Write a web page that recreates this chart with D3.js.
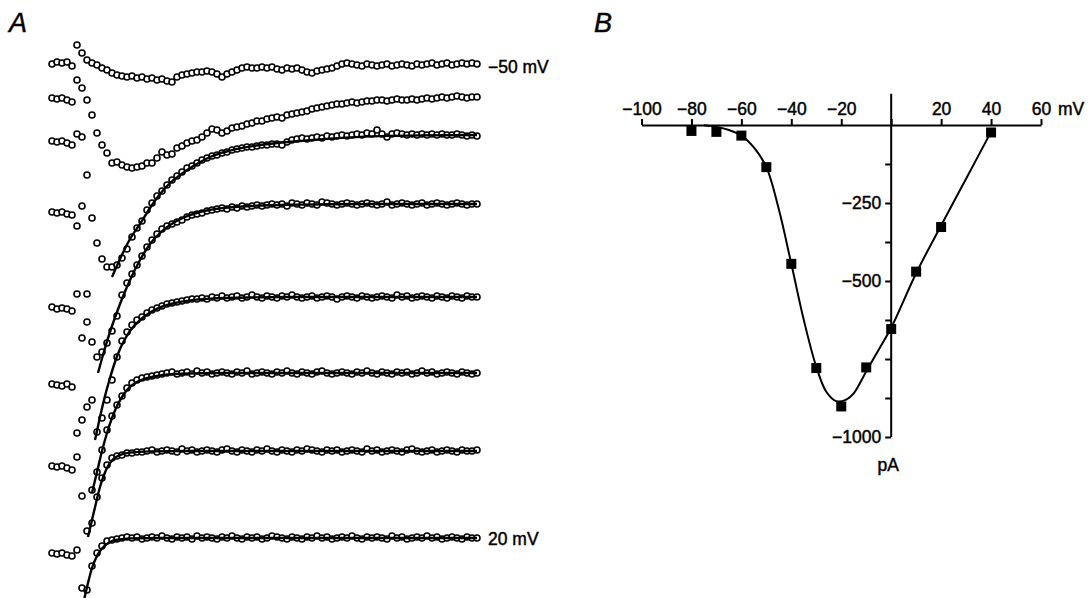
<!DOCTYPE html>
<html>
<head>
<meta charset="utf-8">
<script src="https://cdn.jsdelivr.net/npm/d3@7"></script>
<style>
  body { margin: 0; background: #fff; }
  svg { display: block; font-family: "Liberation Sans", Arial, Helvetica, sans-serif; }
  svg text { stroke: #000; stroke-width: 0.45px; }
</style>
</head>
<body>
<svg id="fig" width="1090" height="598"></svg>
<script>
// ---- panel A: current traces, one sample every 0.5 ms, values in pA ----
const sampleStep = 0.5;
const stepVoltages = [-50, -40, -30, -20, -10, 0, 10, 20];

const currentM50 = [
  10, 20, 15, 20, 0, 105, 65, 30, 15, 5,
  -10, -20, -35, -45, -50, -55, -50, -60, -55, -65,
  -60, -70, -65, -75, -80, -55, -45, -40, -35, -30,
  -30, -25, -30, -40, -55, -40, -30, -20, -10, -5,
  -10, -10, -5, -10, -5, -15, -20, -10, -15, -10,
  -20, -30, -35, -25, -20, -15, -10, 0, 10, 15,
  10, 5, 0, 10, 5, 0, 5, 10, 0, 5,
  10, 5, 0, 10, 5, 10, 15, 5, 10, 15,
  5, 10, 15, 10, 15, 10
];
const currentM40 = [
  0, -5, 0, -10, -20, 90, 50, -10, -85, -175,
  -235, -275, -325, -320, -335, -345, -350, -345, -340, -325,
  -325, -300, -270, -285, -280, -250, -240, -225, -215, -210,
  -195, -175, -155, -160, -175, -165, -150, -145, -140, -130,
  -125, -115, -115, -105, -100, -95, -100, -85, -80, -75,
  -70, -65, -55, -50, -45, -40, -35, -30, -30, -25,
  -20, -25, -20, -15, -15, -10, -10, -15, -10, -5,
  -10, -10, -5, -10, -5, 0, -5, 0, 5, 0,
  5, 10, 5, 0, 5, 5
];
const currentM30 = [
  -30, -35, -30, -40, -50, 5, -10, -200, -415, -540,
  -620, -660, -660, -650, -615, -570, -510, -465, -430, -375,
  -340, -305, -280, -250, -225, -205, -185, -165, -155, -140,
  -125, -115, -105, -100, -90, -85, -75, -70, -65, -60,
  -60, -55, -50, -50, -45, -45, -50, -35, -25, -20,
  -15, -20, -15, -10, -15, -5, -10, -5, 0, -5,
  0, 5, 0, 10, 5, 25, 5, -10, 5, 10,
  5, 0, 5, 0, 5, 0, 5, 0, 5, 0,
  0, 5, 0, -5, 0, -5
];
const currentM20 = [
  -40, -45, -40, -50, -55, -110, -10, -450, -690, -765,
  -740, -695, -635, -560, -455, -395, -350, -305, -260, -215,
  -180, -150, -125, -110, -100, -90, -80, -65, -55, -50,
  -45, -35, -30, -25, -20, -25, -15, -20, -10, -15,
  -10, -5, -10, -5, 0, -5, 0, -10, 5, 0,
  -5, 5, 0, -5, 10, 5, 0, -5, 0, 5,
  0, -5, 0, 5, 0, -5, 0, 10, -5, 0,
  5, 0, -5, 0, 5, -5, 0, 5, 0, -5,
  0, 5, 0, -5, 0, 0
];
const currentM10 = [
  -50, -60, -55, -60, -70, 15, -205, -125, -515, -675,
  -605, -515, -415, -300, -220, -175, -140, -115, -100, -80,
  -65, -55, -45, -35, -30, -25, -20, -15, -10, -10,
  -5, -10, 0, -5, 5, -5, 0, 5, -5, 0,
  10, 0, -5, 5, 0, -5, 5, 0, 10, 0,
  -5, 0, 5, -5, 0, 5, 0, -10, 0, 5,
  0, -5, 5, 0, -5, 0, 5, 0, -5, 10,
  0, 5, -5, 0, 5, 0, -5, 5, 0, -5,
  5, 0, -5, 5, 0, 0
];
const current0 = [
  -55, -60, -65, -55, -70, -300, -235, -170, -585, -495,
  -385, -285, -215, -160, -115, -75, -50, -35, -25, -20,
  -15, -10, -5, 0, 5, -5, 0, 5, -5, 10,
  0, 5, -5, 0, 5, 0, -5, 5, 0, 10,
  -5, 0, 5, 0, -5, 5, 0, 10, 0, -5,
  5, 0, -5, 5, 10, 0, -5, 0, 5, 0,
  -5, 5, 0, 10, 0, -5, 5, 0, -5, 5,
  0, 5, -5, 0, 10, 0, 5, -5, 0, 5,
  0, -5, 5, 0, -5, 0
];
const currentP10 = [
  -75, -80, -75, -85, -95, -30, -225, -400, -360, -230,
  -135, -70, -35, -25, -20, -10, -10, -5, -5, 0,
  5, -5, 0, 5, 0, -5, 10, 0, 5, -5,
  0, 5, 0, -5, 5, 10, 0, -5, 5, 0,
  -5, 5, 0, 10, 0, -5, 5, 0, -5, 5,
  0, 10, 5, 0, -5, 5, 0, 5, -5, 0,
  5, 0, -5, 10, 0, 5, -5, 0, 5, 0,
  -5, 5, 10, 0, -5, 0, 5, -5, 0, 5,
  0, -5, 5, 0, 0, 5
];
const currentP20 = [
  -75, -80, -75, -85, -90, -60, -250, -260, -140, -75,
  -40, -15, -10, -5, 0, 5, 0, 5, -5, 0,
  5, 0, 10, 0, -5, 5, 0, 5, -5, 10,
  0, 5, 0, -5, 5, 0, 10, 0, -5, 5,
  0, 5, -5, 0, 10, 5, 0, -5, 5, 0,
  -5, 5, 0, 10, 0, 5, -5, 0, 5, 0,
  10, 0, -5, 5, 0, 5, 0, -5, 10, 0,
  5, -5, 0, 5, 0, 10, 0, 5, -5, 0,
  5, 0, -5, 5, 0, 0
];

// exponential fits of the decay, [ms, pA]
const fitM30 = [[6, -710], [6.8, -620], [7.8, -520], [8.8, -445], [9.8, -365], [10.8, -295], [11.8, -240], [12.8, -200], [14.3, -150], [15.8, -110], [17.8, -78], [20.8, -50], [24.8, -30], [29.8, -12], [36.8, -2], [42.5, 0]];
const fitM20 = [[4.6, -845], [5.3, -720], [6, -610], [6.8, -500], [7.8, -380], [8.8, -280], [9.8, -200], [10.8, -145], [11.8, -105], [13.3, -65], [14.8, -40], [16.8, -22], [19.8, -10], [24.8, -3], [30.8, 0], [42.5, 0]];
const fitM10 = [[4.3, -715], [4.8, -600], [5.3, -495], [5.8, -405], [6.3, -325], [6.8, -260], [7.3, -210], [7.8, -170], [8.8, -115], [9.8, -78], [10.8, -52], [12.3, -30], [13.8, -17], [15.8, -8], [19.8, -2], [24.8, 0], [42.5, 0]];
const fit0 = [[4, -600], [4.5, -495], [5, -390], [5.5, -300], [6, -225], [6.5, -165], [7, -120], [7.5, -85], [8.3, -50], [9.3, -28], [10.8, -12], [12.8, -4], [16.8, 0], [42.5, 0]];
const fitP10 = [[3.6, -430], [4, -345], [4.4, -260], [4.8, -180], [5.2, -120], [5.6, -75], [6.1, -42], [6.8, -20], [7.8, -8], [9.8, -2], [14.8, 0], [42.5, 0]];
const fitP20 = [[3.2, -310], [3.6, -225], [4, -150], [4.4, -100], [4.8, -65], [5.3, -38], [5.8, -20], [6.6, -8], [7.8, -2], [10.8, 0], [42.5, 0]];

const traces = [currentM50, currentM40, currentM30, currentM20, currentM10, current0, currentP10, currentP20];
const fits = [null, null, fitM30, fitM20, fitM10, fit0, fitP10, fitP20];
const traceLabels = { 0: "\u221250 mV", 7: "20 mV" };

// ---- panel B: peak current-voltage relation ----
const ivVoltage = [-80, -70, -60, -50, -40, -30, -20, -10, 0, 10, 20, 40];
const ivCurrent = [-19, -22, -34, -135, -445, -779, -902, -777, -654, -470, -327, -24];
const ivFit = [[-75, -1], [-70, -6], [-65, -16], [-60, -34], [-55, -72], [-50, -135], [-45, -270], [-40, -445], [-35, -625], [-30, -775], [-26, -855], [-22, -885], [-18, -880], [-15, -860], [-10, -790], [-5, -720], [0, -650], [10, -475], [20, -322], [30, -172], [40, -22]];
const ivTicksX = [-100, -80, -60, -40, -20, 0, 20, 40, 60];
const ivTicksY = [-125, -250, -375, -500, -625, -750, -875, -1000];
const ivLabelsY = [-250, -500, -1000];

// ---- layout ----
const traceBaseY = [66, 98, 135, 204, 297, 373, 451, 538];

const svg = d3.select("#fig");

// panel A
const xA = d3.scaleLinear().domain([0, 42.5]).range([52, 477]);
const yA = d3.scaleLinear().domain([0, -1000]).range([0, 200]);
const lineA = d3.line()
  .x(d => xA(d[0]))
  .y(d => yA(d[1]))
  .curve(d3.curveMonotoneX);

const gA = svg.append("g").attr("class", "panel-a");

traces.forEach((vals, k) => {
  const g = gA.append("g").attr("transform", `translate(0,${traceBaseY[k]})`);
  g.selectAll("circle")
    .data(vals)
    .join("circle")
    .attr("cx", (d, i) => xA(i * sampleStep))
    .attr("cy", d => yA(d))
    .attr("r", 3)
    .attr("fill", "#fff")
    .attr("stroke", "#000")
    .attr("stroke-width", 1.6);
  if (fits[k]) {
    g.append("path")
      .datum(fits[k])
      .attr("d", lineA)
      .attr("fill", "none")
      .attr("stroke", "#000")
      .attr("stroke-width", 2.4);
  }
  if (traceLabels[k]) {
    g.append("text")
      .attr("x", xA(42.5) + 11)
      .attr("y", 7)
      .attr("font-size", 17.5)
      .text(traceLabels[k]);
  }
});

gA.append("text")
  .attr("x", 9).attr("y", 32)
  .attr("font-size", 27).attr("font-style", "italic")
  .text("A");

// panel B
const xB = d3.scaleLinear().domain([-100, 60]).range([641.5, 1041]);
const yB = d3.scaleLinear().domain([0, -1000]).range([125, 437]);

const gB = svg.append("g").attr("class", "panel-b");

gB.append("text")
  .attr("x", 594).attr("y", 32)
  .attr("font-size", 27).attr("font-style", "italic")
  .text("B");

const axisX = gB.append("g")
  .attr("transform", `translate(0,${yB(0)})`)
  .call(d3.axisTop(xB)
    .tickValues(ivTicksX)
    .tickSize(6)
    .tickSizeOuter(0)
    .tickPadding(4)
    .tickFormat(d => d === 0 ? "" : d3.format("")(d)));

const axisY = gB.append("g")
  .attr("transform", `translate(${xB(0)},0)`)
  .call(d3.axisLeft(yB)
    .tickValues(ivTicksY)
    .tickSize(6)
    .tickSizeOuter(0)
    .tickPadding(4)
    .tickFormat(d => ivLabelsY.includes(d) ? d3.format("")(d) : ""));
axisY.select(".domain").remove();
axisY.append("line")
  .attr("y1", yB(100)).attr("y2", yB(-1000))
  .attr("stroke", "#000").attr("stroke-width", 2);

[axisX, axisY].forEach(ax => {
  ax.attr("font-size", 17.5).attr("font-family", null);
  ax.selectAll("line, path").attr("stroke-width", 2);
  ax.selectAll("text").attr("fill", "#000");
});

gB.append("text")
  .attr("x", xB(60) + 17).attr("y", yB(0) - 10)
  .attr("font-size", 17.5)
  .text("mV");

gB.append("text")
  .attr("x", xB(0) - 3).attr("y", yB(-1000) + 34)
  .attr("font-size", 17.5).attr("text-anchor", "middle")
  .text("pA");

gB.append("path")
  .datum(ivFit)
  .attr("d", d3.line().x(d => xB(d[0])).y(d => yB(d[1])).curve(d3.curveCatmullRom))
  .attr("fill", "none")
  .attr("stroke", "#000")
  .attr("stroke-width", 2);

gB.selectAll("rect.pt")
  .data(ivVoltage.map((v, i) => [v, ivCurrent[i]]))
  .join("rect")
  .attr("class", "pt")
  .attr("x", d => xB(d[0]) - 5)
  .attr("y", d => yB(d[1]) - 5)
  .attr("width", 10)
  .attr("height", 10)
  .attr("fill", "#000");
</script>
</body>
</html>
